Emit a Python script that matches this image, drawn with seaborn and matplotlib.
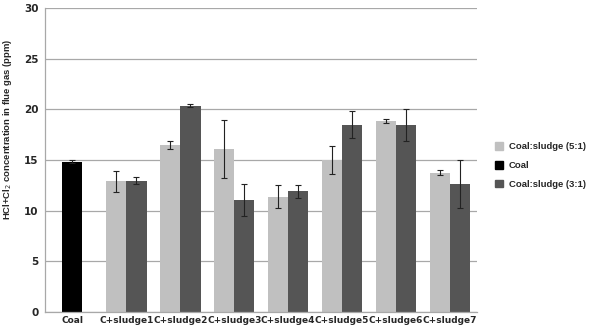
import numpy as np
import pandas as pd
import matplotlib
matplotlib.use("Agg")
import matplotlib.pyplot as plt
import seaborn as sns
from matplotlib.patches import Patch

categories = ["Coal", "C+sludge1", "C+sludge2", "C+sludge3", "C+sludge4",
              "C+sludge5", "C+sludge6", "C+sludge7"]
mix_labels = ["C+sludge1", "C+sludge2", "C+sludge3", "C+sludge4",
              "C+sludge5", "C+sludge6", "C+sludge7"]
coal_value = [14.85]
coal_err = [0.15]
ratio51 = [12.9, 16.5, 16.1, 11.4, 15.0, 18.85, 13.75]
ratio51_err = [1.05, 0.4, 2.85, 1.15, 1.35, 0.2, 0.25]
ratio31 = [12.95, 20.35, 11.05, 11.9, 18.5, 18.45, 12.65]
ratio31_err = [0.33, 0.15, 1.55, 0.6, 1.3, 1.6, 2.4]
series = ["Coal:sludge (5:1)", "Coal:sludge (3:1)"]

sns.set_style("white")
plt.rcParams["font.family"] = ["DejaVu Sans"]

df = pd.DataFrame({
    "cat": mix_labels * 2,
    "val": ratio51 + ratio31,
    "ser": [series[0]] * 7 + [series[1]] * 7,
})
df_coal = pd.DataFrame({"cat": ["Coal"], "val": coal_value})

fig = plt.figure(figsize=(5.89, 3.25), dpi=100)
ax = fig.add_axes([0.077, 0.04, 0.733, 0.935])

sns.barplot(data=df, x="cat", y="val", hue="ser", order=categories,
            hue_order=series, palette=["#c0c0c0", "#555555"], width=0.75,
            errorbar=None, legend=False, ax=ax, zorder=2, saturation=1,
            linewidth=0)
sns.barplot(data=df_coal, x="cat", y="val", order=categories, color="black",
            width=0.375, errorbar=None, ax=ax, zorder=2, saturation=1,
            linewidth=0)

xs = np.arange(len(categories))
ekw = dict(fmt="none", ecolor="#222222", elinewidth=0.8, capsize=2,
           capthick=0.8, zorder=3)
ax.errorbar(xs[:1], coal_value, yerr=coal_err, **ekw)
ax.errorbar(xs[1:] - 0.1875, ratio51, yerr=ratio51_err, **ekw)
ax.errorbar(xs[1:] + 0.1875, ratio31, yerr=ratio31_err, **ekw)

ax.set_xlim(-0.5, len(categories) - 0.5)
ax.set_ylim(0, 30)
ax.set_yticks(range(0, 31, 5))
ax.yaxis.grid(True, color="#a8a8a8", linewidth=0.9, zorder=0)
ax.set_axisbelow(True)
for s in ["top", "right"]:
    ax.spines[s].set_visible(False)
for s in ["left", "bottom"]:
    ax.spines[s].set_color("#a8a8a8")
    ax.spines[s].set_linewidth(0.9)

ax.set_xticks(xs)
ax.set_xticklabels(categories, fontsize=6.5, fontweight="bold")
ax.set_xticks(np.arange(-0.5, len(categories)), minor=True)
ax.tick_params(axis="x", which="major", length=0, pad=3)
ax.tick_params(axis="x", which="minor", length=3, color="#a8a8a8", width=0.9)
ax.tick_params(axis="y", length=3, color="#a8a8a8", width=0.9,
               labelsize=7.5, pad=2)
for t in ax.get_yticklabels():
    t.set_fontweight("bold")
ax.set_xlabel("")
ax.set_ylabel("HCl+Cl$_2$ concentration in flue gas (ppm)", fontsize=6.8,
              fontweight="bold", family="Liberation Sans")
ax.yaxis.set_label_coords(-0.072, 0.6)

handles = [Patch(color="#c0c0c0"), Patch(color="black"), Patch(color="#555555")]
labels = ["Coal:sludge (5:1)", "Coal", "Coal:sludge (3:1)"]
fig.legend(handles, labels, loc="center left", bbox_to_anchor=(0.833, 0.49),
           frameon=False,
           prop={"size": 6.8, "weight": "bold", "family": "Liberation Sans"},
           handlelength=0.8, handleheight=0.8, labelspacing=1.05,
           handletextpad=0.6, borderpad=0)

fig.savefig("out.png", dpi=100)
